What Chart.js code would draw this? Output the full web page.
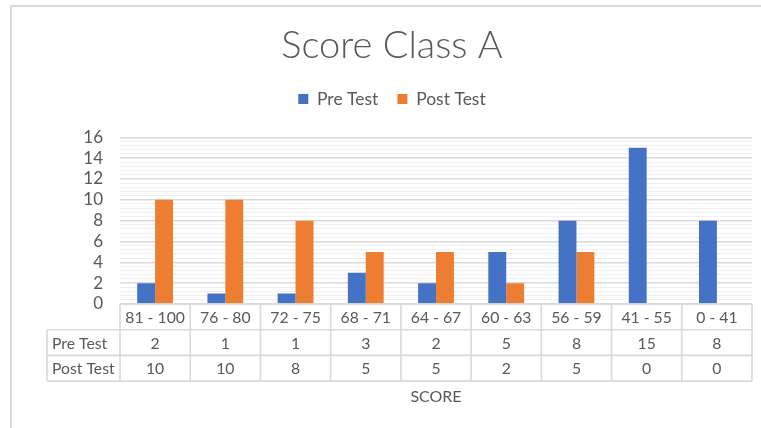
<!DOCTYPE html>
<html>
<head>
<meta charset="utf-8">
<script src="https://cdn.jsdelivr.net/npm/chart.js@4"></script>
<style>
  html, body { margin: 0; padding: 0; background: #fff; }
  canvas { display: block; }
</style>
</head>
<body>
<canvas id="scoreChart" width="761" height="428"></canvas>
<script>
const categories = ['81 - 100', '76 - 80', '72 - 75', '68 - 71', '64 - 67', '60 - 63', '56 - 59', '41 - 55', '0 - 41'];
const preTest = [2, 1, 1, 3, 2, 5, 8, 15, 8];
const postTest = [10, 10, 8, 5, 5, 2, 5, 0, 0];
const seriesNames = ['Pre Test', 'Post Test'];
const yMax = 16;
const majorStep = 2;
const minorStep = 0.4;

const textColor = '#595959';
const lineColor = '#d9d9d9';
const fontName = 'Lato, "Open Sans", sans-serif';

function isMajor(v) {
  const r = v / majorStep;
  return Math.abs(r - Math.round(r)) < 1e-6;
}

// frame round the chart and the data table under the plot
const dataTable = {
  id: 'dataTable',
  beforeInit(chart) {
    // extra room between legend and plot
    const fit = chart.legend.fit;
    chart.legend.fit = function () {
      fit.call(this);
      this.height += 19.5;
    };
  },
  beforeDraw(chart) {
    const c = chart.ctx;
    c.save();
    c.fillStyle = '#fff';
    c.fillRect(0, 0, chart.width, chart.height);
    c.strokeStyle = lineColor;
    c.lineWidth = 2;
    c.beginPath();
    c.moveTo(11, chart.height);
    c.lineTo(11, 6);
    c.lineTo(chart.width, 6);
    c.stroke();
    c.restore();
  },
  afterDraw(chart) {
    const c = chart.ctx;
    const x = chart.scales.x;
    const area = chart.chartArea;
    const rowH = 25.7;
    const top = area.bottom;
    const left = 47;
    const n = categories.length;
    const edges = [];
    for (let i = 0; i <= n; i++) edges.push(x.getPixelForValue(i - 0.5));

    c.save();
    c.strokeStyle = lineColor;
    c.lineWidth = 1.6;
    c.beginPath();
    c.moveTo(edges[0], top); c.lineTo(edges[n], top);
    for (let r = 1; r <= 3; r++) {
      c.moveTo(left, top + rowH * r); c.lineTo(edges[n], top + rowH * r);
    }
    for (let i = 0; i <= n; i++) {
      c.moveTo(edges[i], top); c.lineTo(edges[i], top + rowH * 3);
    }
    c.moveTo(left, top + rowH); c.lineTo(left, top + rowH * 3);
    c.stroke();

    c.fillStyle = textColor;
    c.font = '15.75px ' + fontName;
    c.textBaseline = 'middle';
    c.textAlign = 'center';
    const rows = [categories, preTest, postTest];
    rows.forEach((vals, r) => {
      const cy = top + rowH * r + rowH / 2 + 1;
      vals.forEach((v, i) => {
        c.fillText(String(v), (edges[i] + edges[i + 1]) / 2, cy);
      });
    });
    c.textAlign = 'left';
    seriesNames.forEach((name, r) => {
      c.fillText(name, left + 5, top + rowH * (r + 1) + rowH / 2 + 1);
    });
    c.restore();
  }
};

const ctx = document.getElementById('scoreChart').getContext('2d');

const scoreChart = new Chart(ctx, {
  type: 'bar',
  data: {
    labels: categories,
    datasets: [{
      label: seriesNames[0],
      data: preTest,
      backgroundColor: '#4472c4'
    }, {
      label: seriesNames[1],
      data: postTest,
      backgroundColor: '#ed7d31'
    }]
  },
  options: {
    responsive: false,
    animation: false,
    categoryPercentage: 0.51,
    barPercentage: 1,
    layout: {
      padding: { top: 14, right: 9, bottom: 24, left: 32 }
    },
    plugins: {
      title: {
        display: true,
        text: 'Score Class A',
        color: textColor,
        font: { family: fontName, size: 38, weight: '300' },
        padding: { top: 9.2, bottom: 2.45 }
      },
      legend: {
        labels: {
          color: textColor,
          font: { family: fontName, size: 17.5 },
          boxWidth: 10,
          boxHeight: 10,
          padding: 19
        }
      },
      tooltip: { enabled: false }
    },
    scales: {
      x: {
        grid: { display: false },
        border: { display: false },
        ticks: { display: false },
        title: {
          display: true,
          text: 'SCORE',
          color: textColor,
          font: { family: fontName, size: 16 },
          padding: { top: 0, bottom: -2 }
        },
        afterFit(scale) { scale.height = 100; }
      },
      y: {
        min: 0,
        max: yMax,
        border: { display: false },
        grid: {
          drawTicks: false,
          color: (c) => isMajor(c.tick.value) ? '#d9d9d9' : '#f0f0f0',
          lineWidth: (c) => isMajor(c.tick.value) ? 1.5 : 1
        },
        ticks: {
          stepSize: minorStep,
          autoSkip: false,
          padding: 17,
          color: textColor,
          font: { family: fontName, size: 17 },
          callback: (v) => isMajor(v) ? String(Math.round(v)) : ''
        },
        afterFit(scale) { scale.width = 88; }
      }
    }
  },
  plugins: [dataTable]
});
</script>
</body>
</html>
